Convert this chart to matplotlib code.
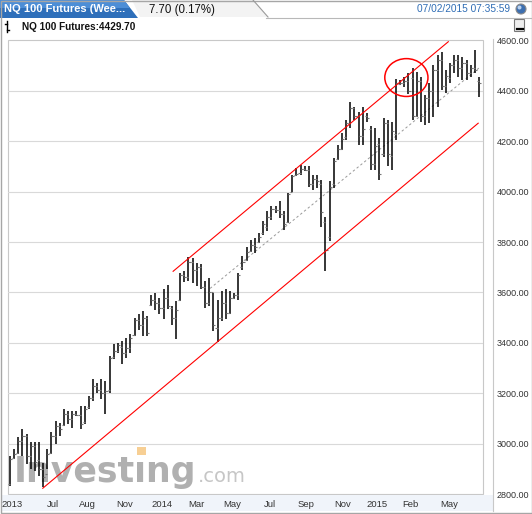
import matplotlib
matplotlib.use("Agg")
import matplotlib.pyplot as plt
from matplotlib.patches import Rectangle, Polygon, Ellipse, Circle, FancyBboxPatch
import numpy as np

# weekly OHLC bars (NQ 100 futures)
highs = [2950, 2981, 3027, 3058, 3038, 3007, 3007, 3007, 2926, 2979,
         3045, 3091, 3084, 3140, 3130, 3130, 3130, 3150, 3150, 3190,
         3256, 3243, 3256, 3249, 3348, 3394, 3401, 3407, 3420, 3434,
         3500, 3513, 3526, 3506, 3590, 3599, 3579, 3612, 3630, 3545,
         3565, 3678, 3684, 3740, 3735, 3717, 3711, 3645, 3658, 3599,
         3572, 3605, 3612, 3605, 3599, 3678, 3743, 3780, 3809, 3816,
         3836, 3882, 3921, 3941, 3941, 3961, 3921, 3994, 4067, 4093,
         4106, 4100, 4102, 4067, 4067, 4047, 3900, 4040, 4133, 4185,
         4232, 4284, 4356, 4337, 4317, 4337, 4311, 4258, 4251, 4212,
         4291, 4284, 4277, 4445, 4442, 4455, 4470, 4488, 4475, 4455,
         4383, 4429, 4502, 4541, 4554, 4482, 4508, 4541, 4541, 4535,
         4521, 4502, 4561, 4455]
lows = [2834, 2938, 2959, 2952, 2920, 2899, 2893, 2873, 2827, 2899,
        2959, 2998, 3031, 3071, 3077, 3064, 3110, 3058, 3077, 3140,
        3170, 3203, 3176, 3117, 3203, 3335, 3361, 3315, 3341, 3361,
        3427, 3453, 3427, 3427, 3545, 3532, 3513, 3495, 3535, 3470,
        3414, 3565, 3640, 3645, 3638, 3625, 3612, 3540, 3546, 3447,
        3405, 3486, 3493, 3513, 3575, 3572, 3690, 3725, 3760, 3757,
        3796, 3829, 3842, 3888, 3915, 3895, 3849, 3875, 4000, 4060,
        4067, 4080, 4020, 4007, 4014, 3860, 3685, 3803, 4014, 4126,
        4166, 4205, 4251, 4284, 4185, 4185, 4277, 4086, 4086, 4047,
        4139, 4100, 4086, 4205, 4422, 4416, 4385, 4284, 4297, 4277,
        4264, 4271, 4297, 4337, 4403, 4390, 4429, 4469, 4455, 4442,
        4442, 4455, 4469, 4376]
opens = [2840, 2945, 2965, 3010, 3030, 2950, 2990, 2935, 2900, 2880,
         2965, 3030, 3070, 3075, 3120, 3100, 3120, 3115, 3085, 3145,
         3180, 3230, 3215, 3200, 3215, 3345, 3370, 3385, 3360, 3380,
         3430, 3490, 3470, 3500, 3550, 3570, 3560, 3540, 3580, 3540,
         3500, 3570, 3670, 3660, 3720, 3690, 3700, 3620, 3560, 3600,
         3460, 3500, 3560, 3520, 3580, 3590, 3700, 3730, 3765, 3790,
         3800, 3835, 3860, 3900, 3930, 3925, 3910, 3880, 4000, 4065,
         4075, 4090, 4085, 4030, 4050, 4030, 3880, 3820, 4030, 4130,
         4170, 4215, 4270, 4330, 4300, 4220, 4300, 4250, 4110, 4190,
         4150, 4270, 4140, 4230, 4425, 4430, 4440, 4450, 4300, 4440,
         4300, 4370, 4400, 4480, 4520, 4420, 4450, 4500, 4520, 4490,
         4510, 4470, 4490, 4440]
closes = [2940, 2960, 3010, 3030, 2950, 2990, 2930, 2900, 2870, 2960,
          3030, 3070, 3060, 3120, 3100, 3120, 3115, 3080, 3140, 3180,
          3230, 3215, 3200, 3210, 3340, 3370, 3390, 3360, 3380, 3420,
          3490, 3470, 3500, 3440, 3570, 3560, 3540, 3580, 3545, 3500,
          3530, 3670, 3660, 3720, 3690, 3700, 3620, 3560, 3600, 3470,
          3500, 3560, 3520, 3580, 3590, 3670, 3720, 3760, 3790, 3780,
          3820, 3870, 3900, 3930, 3925, 3910, 3870, 3990, 4060, 4070,
          4090, 4085, 4030, 4050, 4040, 3920, 3770, 4020, 4120, 4170,
          4210, 4270, 4330, 4300, 4220, 4250, 4290, 4110, 4180, 4070,
          4270, 4150, 4240, 4430, 4430, 4440, 4400, 4300, 4440, 4300,
          4370, 4400, 4480, 4520, 4420, 4460, 4500, 4520, 4490, 4510,
          4470, 4490, 4480, 4430]

# trend channel drawn on the chart: (bar, price) end points
upper_channel = [(39.3, 3684), (105.6, 4594)]
lower_channel = [(7.9, 2824), (112.8, 4271)]
mid_channel = [(48.2, 3616), (113.3, 4494)]
circle_center = (95.5, 4452)

x_labels = ["2013", "Jul", "Aug", "Nov", "2014", "Mar", "May", "Jul",
            "Sep", "Nov", "2015", "Feb", "May"]
x_label_bars = [0.5, 10.3, 18.7, 27.7, 36.6, 44.8, 53.5, 62.7, 71.3,
                80.2, 88.4, 96.5, 105.7]
y_ticks = [2800, 3000, 3200, 3400, 3600, 3800, 4000, 4200, 4400, 4600]

W, H = 532, 514
fig = plt.figure(figsize=(W / 100, H / 100), dpi=100)

# pixel-space background layer
bg = fig.add_axes([0, 0, 1, 1], zorder=0)
bg.set_xlim(0, W)
bg.set_ylim(H, 0)
bg.axis("off")

# header: blue tab, grey middle, date
bg.add_patch(Polygon([(0, 0), (124, 0), (138, 18), (0, 18)], closed=True,
                     facecolor="#2e6fba", edgecolor="none"))
bg.add_patch(Polygon([(0, 0), (124, 0), (130, 8), (0, 8)], closed=True,
                     facecolor="#4d8ed6", edgecolor="none"))
bg.add_patch(Polygon([(132, 0), (253, 0), (268, 17), (140, 17)], closed=True,
                     facecolor="#f3f3f3", edgecolor="none"))
bg.plot([253, 268], [0, 17], color="#9a9a9a", lw=0.8)
bg.plot([266, W], [17.5, 17.5], color="#b8b8b8", lw=0.8)
bg.text(4, 9.5, "NQ 100 Futures (Wee...", color="white", fontsize=8,
        fontweight="bold", family="Liberation Sans", va="center")
bg.text(149, 9.5, "7.70 (0.17%)", color="#111111", fontsize=8.3,
        family="Liberation Sans", va="center")
bg.text(510, 9, "07/02/2015 07:35:59", color="#2f6db5", fontsize=7.3,
        family="Liberation Sans", va="center", ha="right")
bg.add_patch(Circle((521, 9), 5, facecolor="#3d6fb0", edgecolor="#8a8a8a", lw=0.8))
bg.add_patch(Circle((519.5, 7.5), 2, facecolor="#b9d2f0", edgecolor="none"))

# second row: instrument label and minimise button
bg.plot([6.5, 6.5], [21, 32], color="black", lw=1)
bg.plot([4.5, 6.5], [24, 24], color="black", lw=1)
bg.plot([6.5, 8.5], [30, 30], color="black", lw=1)
bg.text(22, 26.5, "NQ 100 Futures:4429.70", color="#111111", fontsize=7.2,
        fontweight="bold", family="Liberation Sans", va="center")
bg.add_patch(FancyBboxPatch((515, 20), 9, 11, boxstyle="round,pad=0.5",
                            facecolor="#eeeeee", edgecolor="#777777", lw=0.8))
bg.plot([516.5, 522.5], [28.5, 28.5], color="black", lw=1.6)

# plot area and x-label strip
bg.add_patch(Rectangle((8, 39.7), 475, 454.6, facecolor="white",
                       edgecolor="#c8c8c8", lw=0.8))
bg.add_patch(Rectangle((1, 494.5), 492, 16, facecolor="#f0f4fa",
                       edgecolor="none"))
bg.plot([493, 493], [39, 511], color="#c8c8c8", lw=0.8)
bg.add_patch(Rectangle((0.5, 0.5), W - 1, H - 1.5, facecolor="none",
                       edgecolor="#a6a6a6", lw=1))

# watermark
bg.text(14, 482, "Investıng", color="#b0b0b0", fontsize=25,
        fontweight="bold", family="DejaVu Sans", va="baseline")
bg.add_patch(Rectangle((137, 447), 9, 8, facecolor="#f7cf94",
                       edgecolor="none"))
bg.text(198, 482, ".com", color="#c6c6c6", fontsize=14,
        family="DejaVu Sans", va="baseline")

# main chart axes
left, right = 8 / W, 483 / W
top, bottom = 1 - 39.7 / H, 1 - 494.3 / H
ax = fig.add_axes([left, bottom, right - left, top - bottom], zorder=1)
ax.set_facecolor("none")

idx = np.arange(len(highs))
ax.vlines(idx, lows, highs, color="black", lw=1.1, zorder=3)
ax.hlines(opens, idx - 0.5, idx, color="#777777", lw=0.8, zorder=3)
ax.hlines(closes, idx, idx + 0.5, color="#777777", lw=0.8, zorder=3)

ax.plot(*zip(*upper_channel), color="#ff0000", lw=0.8, zorder=4)
ax.plot(*zip(*lower_channel), color="#ff0000", lw=0.8, zorder=4)
ax.plot(*zip(*mid_channel), color="#999999", lw=0.7, ls=(0, (2.5, 2.5)),
        zorder=2)
ax.add_patch(Ellipse(circle_center, width=10.4, height=150, fill=False,
                     edgecolor="#ff0000", lw=1.1, zorder=4))

ax.set_xlim(-0.48, 113.96)
ax.set_ylim(2803, 4602)
for v in y_ticks[1:-1]:
    ax.axhline(v, color="#d9d9d9", lw=0.8, zorder=1)

ax.yaxis.tick_right()
ax.set_yticks(y_ticks)
ax.set_yticklabels(["%.2f" % v for v in y_ticks], fontsize=6.5,
                   family="Liberation Sans", color="#333333")
ax.tick_params(axis="y", length=0, pad=10)
ax.set_xticks(x_label_bars)
ax.set_xticklabels(x_labels, fontsize=6.8, family="Liberation Sans",
                   color="#333333")
ax.tick_params(axis="x", length=0, pad=4)
for s in ax.spines.values():
    s.set_visible(False)

fig.savefig("out.png", dpi=100)
